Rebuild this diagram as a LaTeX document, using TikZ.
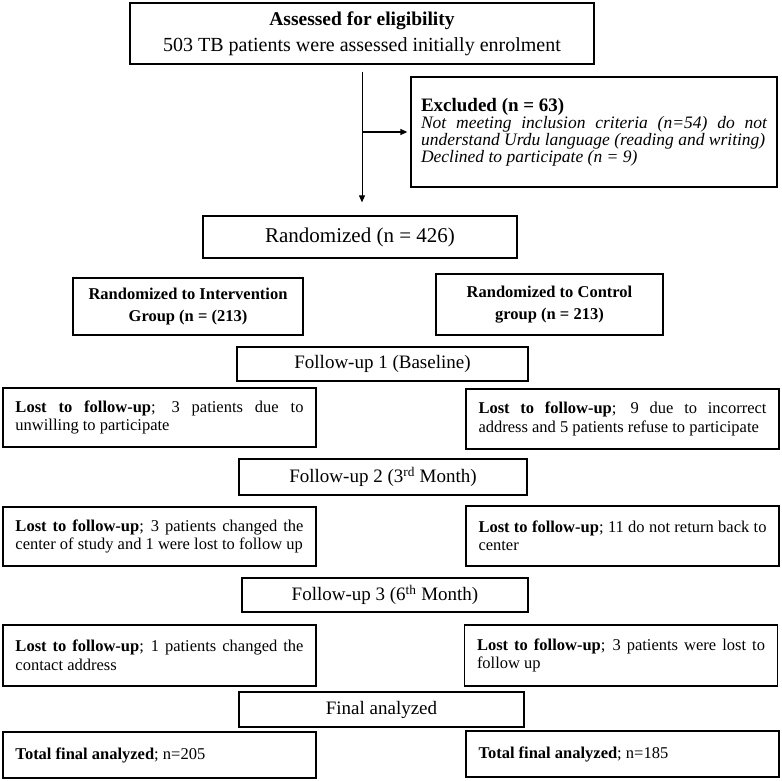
\documentclass[tikz,border=0pt]{standalone}
\usepackage{fontspec}
\setmainfont{Liberation Serif}
\usetikzlibrary{arrows.meta}
\hyphenpenalty=10000
\exhyphenpenalty=10000
\tolerance=9999
\emergencystretch=20pt
\begin{document}
\begin{tikzpicture}[x=1pt,y=-1pt]
\tikzset{
  box/.style={draw, line width=1.3pt, inner sep=0pt, align=center},
  lost/.style={box, align=justify, text width=288pt, minimum width=313pt,
    font=\fontsize{16.5}{18.5}\selectfont},
  fu/.style={box, font=\fontsize{19}{22}\selectfont},
  grp/.style={box, font=\fontsize{16.5}{22}\selectfont\bfseries},
  vline/.style={line width=1pt, -{Triangle[length=7pt,width=6pt]}},
  hline/.style={line width=1.3pt, -{Triangle[length=7pt,width=6pt]}}
}
\fill[white] (0,0) rectangle (782,780);
\useasboundingbox (0,0) rectangle (782,780);

\node[box, minimum width=464pt, minimum height=61pt,
  font=\fontsize{20}{26}\selectfont] (elig) at (362,33.5)
  {{\fontsize{19.5}{26}\selectfont\bfseries Assessed for eligibility}\\503 TB patients were assessed initially enrolment};

\node[box, align=justify, text width=346pt, minimum width=366pt, minimum height=110pt,
  font=\fontsize{17.5}{17}\selectfont] (excl) at (594,132)
  {{\fontsize{19}{17}\selectfont\bfseries Excluded (n = 63)}\\
   \itshape Not meeting inclusion criteria (n=54) do not\linebreak understand Urdu language (reading and writing)\\
   Declined to participate (n = 9)};

\node[box, minimum width=314pt, minimum height=42pt,
  font=\fontsize{21}{24}\selectfont] (rand) at (360,237) {Randomized (n = 426)};

\node[grp, minimum width=230pt, minimum height=57pt] (interv) at (188,306.5)
  {Randomized to Intervention\\Group (n = (213)};
\node[grp, minimum width=227pt, minimum height=61pt] (ctrl) at (549.5,304.5)
  {Randomized to Control\\group (n = 213)};

\node[fu, minimum width=291pt, minimum height=34pt] (fu1) at (382.5,364) {Follow-up 1 (Baseline)};

\node[lost, minimum height=59pt] (l1) at (159.5,417.5)
  {\textbf{Lost to follow-up}; 3 patients due to\linebreak unwilling to participate};
\node[lost, minimum height=60pt] (r1) at (622.5,419)
  {\textbf{Lost to follow-up}; 9 due to incorrect\linebreak address and 5 patients refuse to participate};

\node[fu, minimum width=288pt, minimum height=36pt] (fu2) at (383,477) {Follow-up 2 (3\textsuperscript{rd} Month)};

\node[lost, minimum height=59pt] (l2) at (159.5,536.5)
  {\textbf{Lost to follow-up}; 3 patients changed the\linebreak center of study and 1 were lost to follow up};
\node[lost, minimum height=60pt] (r2) at (622.5,536)
  {\textbf{Lost to follow-up}; 11 do not return back to\linebreak center};

\node[fu, minimum width=286pt, minimum height=34pt] (fu3) at (385,595) {Follow-up 3 (6\textsuperscript{th} Month)};

\node[lost, minimum height=61pt] (l3) at (159.5,655.5)
  {\textbf{Lost to follow-up}; 1 patients changed the\linebreak contact address\par\vspace{6pt}};
\node[lost, minimum height=61pt] (r3) at (621,655.5)
  {\textbf{Lost to follow-up}; 3 patients were lost to\linebreak follow up\par\vspace{6pt}};

\node[fu, minimum width=285pt, minimum height=35pt] (final) at (381.5,709.5) {Final analyzed};

\node[lost, minimum height=46pt] (tl) at (159.5,755)
  {\textbf{Total final analyzed}; n=205\par\vspace{9pt}};
\node[lost, minimum height=46pt] (tr) at (622.5,754)
  {\textbf{Total final analyzed}; n=185\par\vspace{9pt}};

\draw[vline, shorten >=13pt] ([yshift=-7pt]elig.south) -- (elig.south |- rand.north);
\draw[hline, shorten >=3pt] (elig.south |- excl.west) -- (excl.west);
\end{tikzpicture}
\end{document}
